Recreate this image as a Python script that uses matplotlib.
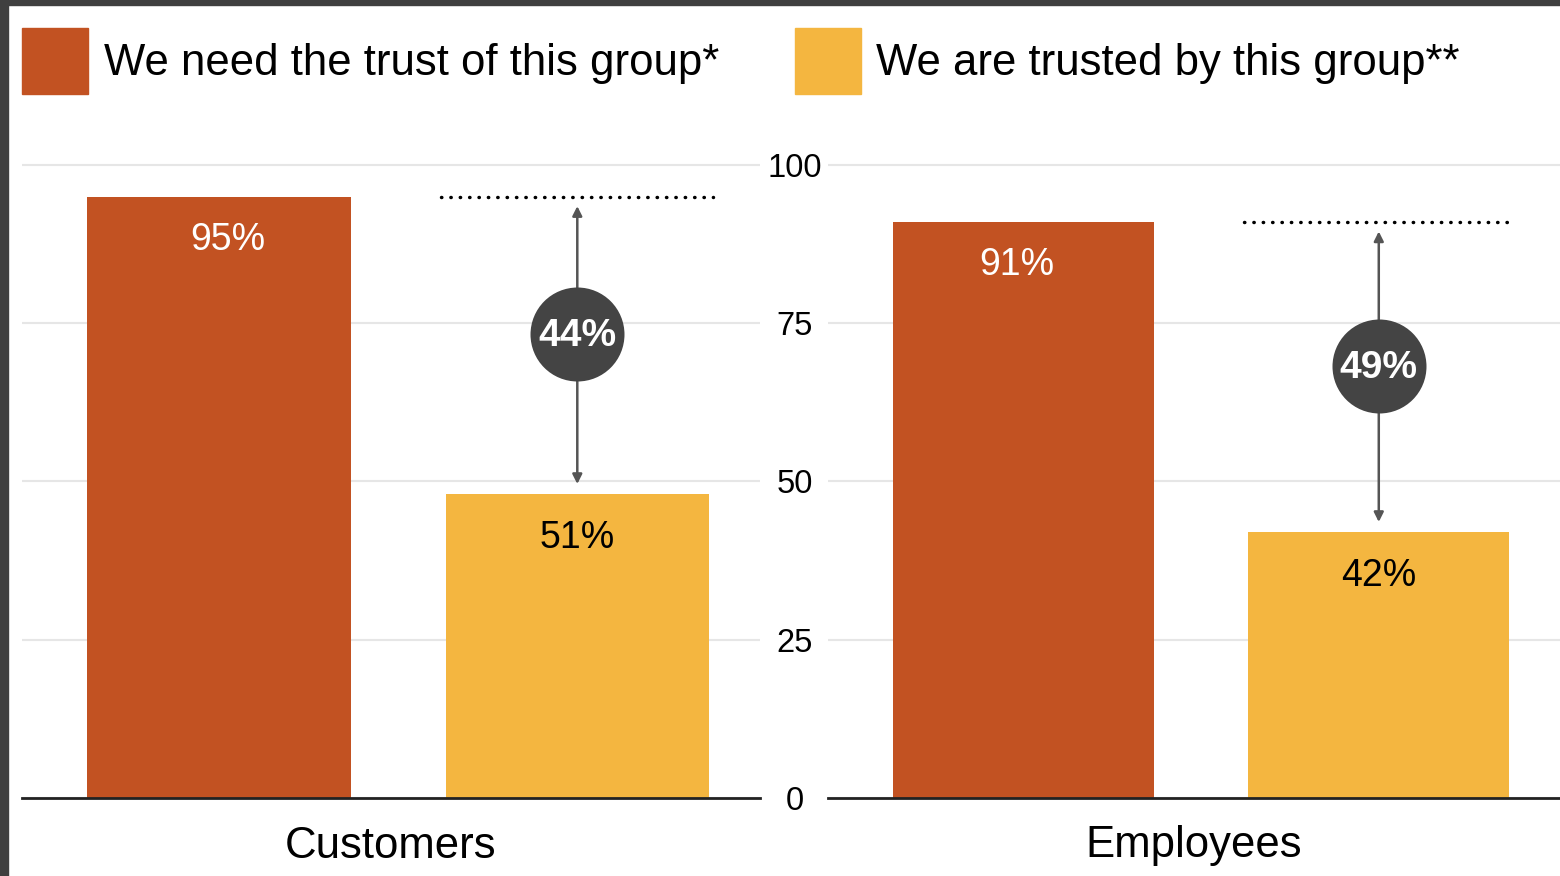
import matplotlib
matplotlib.use("Agg")
import matplotlib.pyplot as plt
from matplotlib.patches import Rectangle

plt.rcParams['font.family'] = ['Liberation Sans', 'DejaVu Sans']

categories = ['Customers', 'Employees']
need_trust = [95, 91]          # red bars
trusted_by = [48, 42]          # yellow bars (heights as drawn)
need_labels = ['95%', '91%']
trusted_labels = ['51%', '42%']
gap_labels = ['44%', '49%']
legend_labels = ['We need the trust of this group*', 'We are trusted by this group**']
yticks = [0, 25, 50, 75, 100]

red = '#C25222'
yellow = '#F4B640'
dark = '#444444'

fig = plt.figure(figsize=(15.6, 8.76), dpi=100)
fig.patch.set_facecolor('white')

# dark frame on left and top edge
fig.add_artist(Rectangle((0, 0), 8 / 1560, 1, transform=fig.transFigure, color='#3f3f3f', zorder=10))
fig.add_artist(Rectangle((0, 1 - 5 / 876), 1, 5 / 876, transform=fig.transFigure, color='#3f3f3f', zorder=10))

# legend
for lx, tx, col, lab in [(22, 104, red, legend_labels[0]), (795, 876, yellow, legend_labels[1])]:
    fig.add_artist(Rectangle((lx / 1560, 1 - 94 / 876), 66 / 1560, 66 / 876,
                             transform=fig.transFigure, color=col))
    fig.text(tx / 1560, 1 - 64 / 876, lab, fontsize=31.5, va='center', ha='left', color='black')

bottom = 78 / 876
height = 645.7 / 876
axes = [fig.add_axes([22 / 1560, bottom, 738 / 1560, height]),
        fig.add_axes([828 / 1560, bottom, 732 / 1560, height])]

label_shift = [0.025, -0.02]

for i, ax in enumerate(axes):
    ax.bar([0, 1], [need_trust[i], trusted_by[i]], width=0.735, color=[red, yellow], zorder=2)
    ax.set_xlim(-0.55, 1.51)
    ax.set_ylim(0, 102)
    ax.set_yticks(yticks)
    ax.yaxis.grid(True, color='#e6e6e6', lw=1.5, zorder=0)
    ax.set_axisbelow(True)
    ax.set_xticks([])
    for s in ['top', 'right', 'left']:
        ax.spines[s].set_visible(False)
    ax.spines['bottom'].set_color('#222222')
    ax.spines['bottom'].set_linewidth(2)
    ax.spines['bottom'].set_zorder(5)
    ax.tick_params(axis='y', length=0)

    # value labels inside bars
    ax.text(label_shift[i], need_trust[i] - 6.8, need_labels[i], ha='center', va='center',
            fontsize=27, color='white', zorder=4)
    ax.text(1, trusted_by[i] - 6.9, trusted_labels[i], ha='center', va='center',
            fontsize=27, color='black', zorder=4)

    # dotted reference line and gap arrow
    ax.plot([0.62, 1.38], [need_trust[i], need_trust[i]], color='black', lw=2.5,
            linestyle=(0, (0.1, 2.6)), dash_capstyle='round', zorder=3)
    top = need_trust[i] - 1.5
    low = trusted_by[i] + 1.6
    ax.annotate('', xy=(1, top), xytext=(1, low),
                arrowprops=dict(arrowstyle='<|-|>', color='#555555', lw=1.8,
                                mutation_scale=14, shrinkA=0, shrinkB=0), zorder=3)
    cy = (top + low) / 2 + 1.7
    ax.scatter([1], [cy], s=4580, color=dark, zorder=4, linewidths=0)
    ax.text(1, cy - 0.3, gap_labels[i], ha='center', va='center', fontsize=28,
            fontweight='bold', color='white', zorder=5)

    ax.text(0.5, -48 / 645.7, categories[i], transform=ax.transAxes, ha='center',
            va='center', fontsize=31.5, color='black')

axes[0].set_yticklabels([])
axes[1].tick_params(axis='y', pad=23.8, labelsize=23.5)
for t in axes[1].get_yticklabels():
    t.set_horizontalalignment('center')

fig.savefig('out.png', dpi=100)
